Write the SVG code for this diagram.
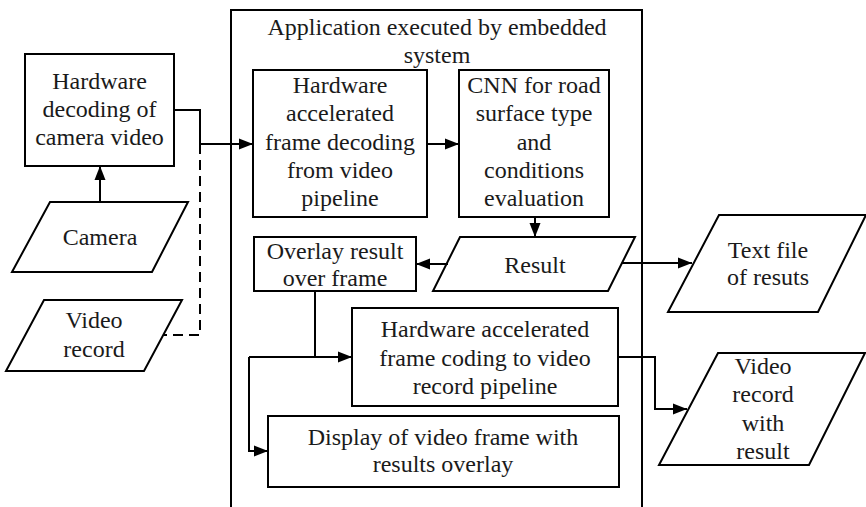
<svg xmlns="http://www.w3.org/2000/svg" width="866" height="507" viewBox="0 0 866 507">
  <style>
    .box { fill: #fff; stroke: #000; stroke-width: 2; }
    .frame { fill: none; stroke: #000; stroke-width: 2; }
    text { font-family: 'Liberation Serif', 'Times New Roman', 'DejaVu Serif', serif; font-size: 24px; fill: #1a1a1a; text-anchor: middle; }
    .wire { fill: none; stroke: #000; stroke-width: 2; }
    .dash { stroke-dasharray: 10 6; }
  </style>
  <defs>
    <marker id="arrow" markerUnits="userSpaceOnUse" markerWidth="14" markerHeight="14" viewBox="0 0 14 14" refX="14" refY="7" orient="auto">
      <path d="M0,1.5 L14,7 L0,12.5 Z" fill="#000"/>
    </marker>
  </defs>
  <rect width="866" height="507" fill="#fff"/>

  <!-- Embedded system container (open at the bottom) -->
  <g id="container">
    <path class="frame" d="M231,507 V10 H642 V507"/>
    <text x="437" y="35">Application executed by embedded</text>
    <text x="437" y="63">system</text>
  </g>

  <g id="hw-decoding">
    <rect class="box" x="25" y="54" width="149" height="112"/>
    <text x="99.5" y="89">Hardware</text>
    <text x="99.5" y="117">decoding of</text>
    <text x="99.5" y="145">camera video</text>
  </g>

  <g id="camera">
    <polygon class="box" points="50,202 188,202 152,272 12,272"/>
    <text x="100" y="245">Camera</text>
  </g>

  <g id="video-record">
    <polygon class="box" points="44,300 182,300 144,371 6,371"/>
    <text x="94" y="328">Video</text>
    <text x="94" y="357">record</text>
  </g>

  <g id="frame-decoding">
    <rect class="box" x="253" y="70" width="174" height="147"/>
    <text x="340" y="93">Hardware</text>
    <text x="340" y="121">accelerated</text>
    <text x="340" y="150">frame decoding</text>
    <text x="340" y="178">from video</text>
    <text x="340" y="206">pipeline</text>
  </g>

  <g id="cnn">
    <rect class="box" x="459" y="70" width="150" height="147"/>
    <text x="534" y="93">CNN for road</text>
    <text x="534" y="121">surface type</text>
    <text x="534" y="150">and</text>
    <text x="534" y="178">conditions</text>
    <text x="534" y="206">evaluation</text>
  </g>

  <g id="overlay">
    <rect class="box" x="254" y="237" width="162" height="54"/>
    <text x="335" y="259">Overlay result</text>
    <text x="335" y="286">over frame</text>
  </g>

  <g id="result">
    <polygon class="box" points="460,237 635,237 608,291 433,291"/>
    <text x="535" y="273">Result</text>
  </g>

  <g id="frame-coding">
    <rect class="box" x="352" y="308" width="266" height="98"/>
    <text x="485" y="337">Hardware accelerated</text>
    <text x="485" y="366">frame coding to video</text>
    <text x="485" y="394">record pipeline</text>
  </g>

  <g id="display">
    <rect class="box" x="268" y="416" width="351" height="71"/>
    <text x="443" y="445">Display of video frame with</text>
    <text x="443" y="472">results overlay</text>
  </g>

  <g id="text-file">
    <polygon class="box" points="719,215 866,215 818,312 668,312"/>
    <text x="768" y="258">Text file</text>
    <text x="768" y="285">of resuts</text>
  </g>

  <g id="video-with-result">
    <polygon class="box" points="718,353 865,353 809,465 659,465"/>
    <text x="763" y="374">Video</text>
    <text x="763" y="402">record</text>
    <text x="763" y="431">with</text>
    <text x="763" y="459">result</text>
  </g>

  <g id="connectors">
    <path class="wire" d="M100,202 V166" marker-end="url(#arrow)"/>
    <path class="wire" d="M174,110 H200 V144 H253" marker-end="url(#arrow)"/>
    <path class="wire dash" d="M200,144 V335 H164"/>
    <path class="wire" d="M427,144 H459" marker-end="url(#arrow)"/>
    <path class="wire" d="M535,217 V237" marker-end="url(#arrow)"/>
    <path class="wire" d="M448,264 H416" marker-end="url(#arrow)"/>
    <path class="wire" d="M622,263 H692" marker-end="url(#arrow)"/>
    <path class="wire" d="M315,291 V357"/>
    <path class="wire" d="M249,357 H352" marker-end="url(#arrow)"/>
    <path class="wire" d="M249,357 V451 H268" marker-end="url(#arrow)"/>
    <path class="wire" d="M618,357 H655 V409 H687" marker-end="url(#arrow)"/>
  </g>
</svg>
